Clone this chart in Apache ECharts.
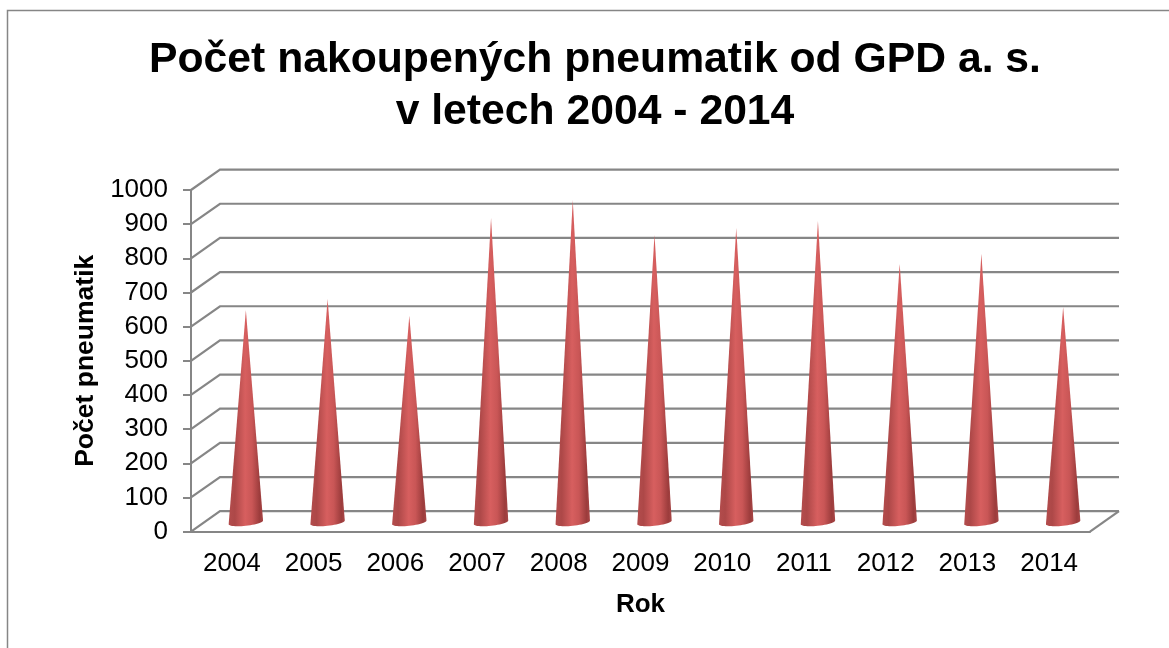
<!DOCTYPE html>
<html lang="cs">
<head>
    <meta charset="UTF-8">
    <title>Počet nakoupených pneumatik</title>
    <script src="https://cdn.jsdelivr.net/npm/echarts@6/dist/echarts.min.js"></script>
    <style>
        html, body { margin: 0; padding: 0; background: #fff; overflow: hidden; }
        #main { width: 1169px; height: 648px; }
    </style>
</head>
<body>
<div id="main"></div>
<script>
var years = ['2004','2005','2006','2007','2008','2009','2010','2011','2012','2013','2014'];
var pneumatiky = [619, 651, 602, 888, 941, 839, 859, 880, 754, 783, 628];
var yTicks = [0, 100, 200, 300, 400, 500, 600, 700, 800, 900, 1000];

var font = '"Liberation Sans", Arial, sans-serif';
var grey = '#868686';
// posun zadni steny proti prednimu okraji (falesne 3D)
var depthX = 29;
var depthY = 20.4;

function renderWall(params, api) {
    var rect = params.coordSys;
    var y = api.coord([0, api.value(1)])[1];
    var children = [{
        type: 'polyline',
        shape: { points: [[rect.x, y], [rect.x + depthX, y - depthY], [rect.x + rect.width + depthX, y - depthY]] },
        style: { fill: null, stroke: grey, lineWidth: 2.2 }
    }];
    if (api.value(1) === 0) {
        children.push({
            type: 'line',
            shape: { x1: rect.x + rect.width, y1: y, x2: rect.x + rect.width + depthX, y2: y - depthY },
            style: { stroke: grey, lineWidth: 2.2 }
        });
    }
    return { type: 'group', children: children };
}

function renderCone(params, api) {
    var base = api.coord([api.value(0), 0]);
    var top = api.coord([api.value(0), api.value(1)]);
    var cx = base[0] + 14;
    var cy = base[1] - depthY / 2 + 1;
    var hw = 17.2;
    var pts = [[cx, top[1] - depthY / 2]];
    // spodni okraj kuzele, mirne sikma elipsa
    for (var i = 0; i <= 24; i++) {
        var a = Math.PI * i / 24;
        pts.push([cx + hw * Math.cos(a), cy + 3.4 * Math.sin(a) - 1.8 * Math.cos(a)]);
    }
    return {
        type: 'polygon',
        shape: { points: pts },
        style: {
            fill: new echarts.graphic.LinearGradient(0, 0, 1, 0, [
                { offset: 0, color: '#b34c4c' },
                { offset: 0.18, color: '#ad4848' },
                { offset: 0.48, color: '#d75f5f' },
                { offset: 0.68, color: '#c95656' },
                { offset: 0.9, color: '#9c3c3c' },
                { offset: 1, color: '#a84646' }
            ])
        }
    };
}

var chart = echarts.init(document.getElementById('main'), null, { renderer: 'canvas' });
chart.setOption({
    animation: false,
    backgroundColor: '#fff',
    title: {
        text: 'Počet nakoupených pneumatik od GPD a. s.\nv letech 2004 - 2014',
        left: 590,
        top: 29,
        textAlign: 'center',
        textStyle: { fontFamily: font, fontSize: 42.7, fontWeight: 'bold', color: '#000', lineHeight: 52 }
    },
    graphic: [{
        type: 'rect',
        silent: true,
        shape: { x: 7.5, y: 10.5, width: 1300, height: 800 },
        style: { fill: null, stroke: grey, lineWidth: 1.5 }
    }],
    grid: { left: 191, right: 79, top: 190, height: 341.6 },
    xAxis: {
        type: 'category',
        data: years,
        name: 'Rok',
        nameLocation: 'middle',
        nameGap: 60,
        nameTextStyle: { fontFamily: font, fontSize: 26, fontWeight: 'bold', color: '#000' },
        axisLine: { lineStyle: { color: grey, width: 2 } },
        axisTick: { alignWithLabel: false, length: 8, lineStyle: { color: grey, width: 2 } },
        axisLabel: { interval: 0, fontFamily: font, fontSize: 26, color: '#000', margin: 19 }
    },
    yAxis: {
        type: 'value',
        min: 0,
        max: 1000,
        interval: 100,
        name: 'Počet pneumatik',
        nameLocation: 'middle',
        nameGap: 92,
        nameTextStyle: { fontFamily: font, fontSize: 26.5, fontWeight: 'bold', color: '#000' },
        splitLine: { show: false },
        axisLine: { show: true, lineStyle: { color: grey, width: 2 } },
        axisTick: { show: true, length: 8, lineStyle: { color: grey, width: 2 } },
        axisLabel: {
            fontFamily: font, fontSize: 26, color: '#000', margin: 23,
            formatter: function (v) { return String(v); }
        }
    },
    series: [
        {
            type: 'custom',
            silent: true,
            z: 1,
            clip: false,
            renderItem: renderWall,
            encode: { x: 0, y: 1 },
            data: yTicks.map(function (v) { return [0, v]; })
        },
        {
            type: 'custom',
            name: 'Počet pneumatik',
            z: 3,
            clip: false,
            renderItem: renderCone,
            encode: { x: 0, y: 1 },
            data: pneumatiky.map(function (v, i) { return [i, v]; })
        }
    ]
});
</script>
</body>
</html>
